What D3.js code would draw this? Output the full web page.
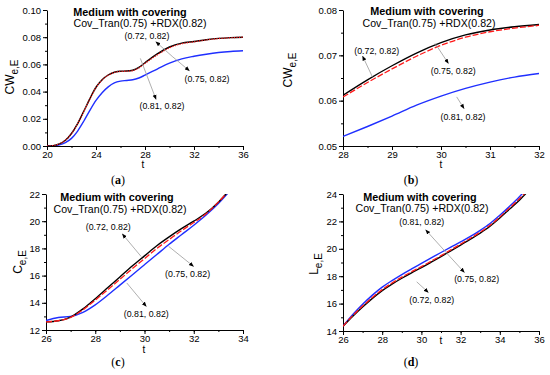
<!DOCTYPE html>
<html>
<head>
<meta charset="utf-8">
<script src="https://cdn.jsdelivr.net/npm/d3@7"></script>
<style>
body { margin: 0; background: #fff; }
text { font-family: "Liberation Sans", Arial, sans-serif; fill: #000; }
</style>
</head>
<body>
<div id="chart"></div>
<script>
// ---- data ----
// (a) CW vs t, 20..36
var tA = [20, 20.5, 21, 21.5, 22, 22.5, 23, 23.5, 24, 24.5, 25, 25.5, 26, 26.5, 27, 27.5, 28, 29, 30, 31, 32, 33, 34, 35, 36];
var blackA = [0, 0.0003, 0.0015, 0.0042, 0.0092, 0.0165, 0.0255, 0.0348, 0.0432, 0.0488, 0.0522, 0.0542, 0.0550, 0.0551, 0.0557, 0.0578, 0.0612, 0.0677, 0.0728, 0.0756, 0.0768, 0.0781, 0.0791, 0.0797, 0.0800];
var redA = [0, 0.0003, 0.0015, 0.0042, 0.0091, 0.0163, 0.0252, 0.0345, 0.0429, 0.0486, 0.0521, 0.0541, 0.0549, 0.0550, 0.0555, 0.0574, 0.0608, 0.0670, 0.0722, 0.0752, 0.0766, 0.0780, 0.0790, 0.0796, 0.0800];
var blueA = [0, 0.0001, 0.0008, 0.0025, 0.0056, 0.0110, 0.0182, 0.0262, 0.0335, 0.0392, 0.0435, 0.0464, 0.0477, 0.0482, 0.0487, 0.0500, 0.0521, 0.0566, 0.0610, 0.0641, 0.0660, 0.0675, 0.0687, 0.0695, 0.0700];

// (b) CW vs t, zoom 28..32
var tB = [28, 28.5, 29, 29.5, 30, 30.5, 31, 31.5, 32];
var blackB = [0.0612, 0.0646, 0.0677, 0.0705, 0.0728, 0.0745, 0.0756, 0.0763, 0.0768];
var redB = [0.0608, 0.0640, 0.0670, 0.0698, 0.0722, 0.0740, 0.0752, 0.0760, 0.0766];
var blueB = [0.0521, 0.0543, 0.0566, 0.0590, 0.0610, 0.0627, 0.0641, 0.0652, 0.0660];

// (c) C vs t
var tC = [26, 26.5, 27, 27.5, 28, 28.5, 29, 29.5, 30, 30.5, 31, 31.5, 32, 32.5, 33, 33.5];
var blackC = [12.6, 12.68, 12.95, 13.55, 14.3, 15.1, 15.9, 16.7, 17.45, 18.2, 18.85, 19.45, 20.0, 20.6, 21.4, 22.4];
var redC = [12.6, 12.68, 12.93, 13.48, 14.2, 14.95, 15.72, 16.5, 17.25, 18.0, 18.65, 19.3, 19.9, 20.55, 21.4, 22.4];
var blueC = [12.7, 12.92, 13.0, 13.3, 13.85, 14.55, 15.3, 16.05, 16.8, 17.55, 18.3, 19.0, 19.7, 20.45, 21.3, 22.3];

// (d) L vs t
var tD = [26, 26.5, 27, 27.5, 28, 28.5, 29, 29.5, 30, 30.5, 31, 31.5, 32, 32.5, 33, 33.5, 34, 34.5, 35, 35.5];
var blackD = [14.35, 15.08, 15.75, 16.38, 16.95, 17.42, 17.85, 18.25, 18.62, 19.02, 19.43, 19.85, 20.27, 20.7, 21.15, 21.65, 22.25, 22.9, 23.55, 24.3];
var redD = [14.35, 15.13, 15.82, 16.45, 17.02, 17.5, 17.93, 18.33, 18.7, 19.1, 19.5, 19.92, 20.34, 20.77, 21.22, 21.72, 22.32, 22.98, 23.65, 24.4];
var blueD = [14.35, 15.2, 15.95, 16.62, 17.2, 17.68, 18.12, 18.53, 18.93, 19.33, 19.73, 20.12, 20.5, 20.9, 21.35, 21.85, 22.45, 23.1, 23.8, 24.6];

var seriesNames = ["(0.72, 0.82)", "(0.75, 0.82)", "(0.81, 0.82)"];
var titleText = "Medium with covering";
var subtitleText = "Cov_Tran(0.75) +RDX(0.82)";

// annotations in data units: label position, arrow from -> to
var notesA = [
  {label: seriesNames[0], at: [28.16, 0.0809], from: [30.22, 0.0659], to: [28.89, 0.0766]},
  {label: seriesNames[1], at: [33.06, 0.0489], from: [30.22, 0.0659], to: [31.62, 0.0553]},
  {label: seriesNames[2], at: [29.39, 0.0293], from: [27.62, 0.0644], to: [28.90, 0.0343]}
];
var notesB = [
  {label: seriesNames[0], at: [28.69, 0.0710], from: [28.60, 0.06525], to: [28.40, 0.06983]},
  {label: seriesNames[1], at: [30.25, 0.06658], from: [29.88, 0.07264], to: [30.15, 0.06822]},
  {label: seriesNames[2], at: [30.45, 0.05641], from: [30.32, 0.06083], to: [30.47, 0.05827]}
];
var notesC = [
  {label: seriesNames[0], at: [28.53, 19.54], from: [29.86, 17.41], to: [29.10, 19.06]},
  {label: seriesNames[1], at: [31.75, 16.14], from: [30.98, 18.15], to: [31.99, 16.68]},
  {label: seriesNames[2], at: [30.07, 13.18], from: [29.28, 15.46], to: [30.07, 13.74]}
];
var notesD = [
  {label: seriesNames[2], at: [30.02, 21.99], from: [31.20, 19.83], to: [30.22, 21.38]},
  {label: seriesNames[1], at: [32.82, 17.79], from: [31.20, 19.83], to: [32.19, 18.28]},
  {label: seriesNames[0], at: [30.53, 16.25], from: [29.76, 17.59], to: [30.35, 16.82]}
];

var panels = [
  {id: "a", x: [20, 36], y: [0, 0.10], xTicks: d3.range(20, 36.1, 4), xMinor: d3.range(20, 36.1, 2),
   yTicks: d3.range(0, 0.1001, 0.02), yMinor: d3.range(0, 0.1001, 0.01), yFmt: d3.format(".2f"),
   t: tA, black: blackA, red: redA, blue: blueA, notes: notesA, redDash: "1.2,1.3",
   box: [47, 243, 10, 146], yName: "CW", title: [130, 15.5], sub: [140, 27], yLab: [14, 77], tLab: [143, 168], cap: [118, 184]},
  {id: "b", x: [28, 32], y: [0.05, 0.08], xTicks: d3.range(28, 32.1, 1), xMinor: d3.range(28, 32.1, 0.5),
   yTicks: d3.range(0.05, 0.0801, 0.01), yMinor: d3.range(0.05, 0.0801, 0.005), yFmt: d3.format(".2f"),
   t: tB, black: blackB, red: redB, blue: blueB, notes: notesB, redDash: "6,2",
   box: [343, 539, 10, 146], yName: "CW", title: [427, 15], sub: [429, 27], yLab: [292, 70], tLab: [441, 168], cap: [411, 184]},
  {id: "c", x: [26, 34], y: [12, 22], xTicks: d3.range(26, 34.1, 2), xMinor: d3.range(26, 34.1, 1),
   yTicks: d3.range(12, 22.1, 2), yMinor: d3.range(12, 22.1, 1), yFmt: d3.format("d"),
   t: tC, black: blackC, red: redC, blue: blueC, notes: notesC, redDash: "6,2",
   box: [46, 243, 194, 330], yName: "C", title: [117, 201], sub: [120, 213], yLab: [22, 262], tLab: [144, 353], cap: [118, 366]},
  {id: "d", x: [26, 36], y: [14, 24], xTicks: d3.range(26, 36.1, 2), xMinor: d3.range(26, 36.1, 1),
   yTicks: d3.range(14, 24.1, 2), yMinor: d3.range(14, 24.1, 1), yFmt: d3.format("d"),
   t: tD, black: blackD, red: redD, blue: blueD, notes: notesD, redDash: "6,2",
   box: [343, 539, 194, 331], yName: "L", title: [420, 200.5], sub: [422, 212], yLab: [318, 264], tLab: [441, 344], cap: [411, 366]}
];

var svg = d3.select("#chart").append("svg")
    .attr("width", 550)
    .attr("height", 375);

var defs = svg.append("defs");
defs.append("marker")
    .attr("id", "arrow")
    .attr("viewBox", "0 0 10 10")
    .attr("refX", 9).attr("refY", 5)
    .attr("markerWidth", 5).attr("markerHeight", 5)
    .attr("markerUnits", "userSpaceOnUse")
    .attr("orient", "auto")
    .append("path")
    .attr("d", "M0,1 L10,5 L0,9 Z")
    .attr("fill", "#000");

panels.forEach(drawPanel);

function drawPanel(p) {
    var x = d3.scaleLinear().domain(p.x).range([p.box[0], p.box[1]]);
    var y = d3.scaleLinear().domain(p.y).range([p.box[3], p.box[2]]);
    var g = svg.append("g").attr("class", "panel-" + p.id);

    defs.append("clipPath").attr("id", "clip-" + p.id)
        .append("rect")
        .attr("x", p.box[0]).attr("y", p.box[2])
        .attr("width", p.box[1] - p.box[0]).attr("height", p.box[3] - p.box[2]);

    // minor ticks
    g.append("g")
        .attr("transform", "translate(0," + p.box[3] + ")")
        .call(d3.axisBottom(x).tickValues(p.xMinor).tickSize(2).tickFormat(""))
        .call(function(s) { s.select(".domain").remove(); });
    g.append("g")
        .attr("transform", "translate(" + p.box[0] + ",0)")
        .call(d3.axisLeft(y).tickValues(p.yMinor).tickSize(2).tickFormat(""))
        .call(function(s) { s.select(".domain").remove(); });

    // major axes
    g.append("g")
        .attr("transform", "translate(0," + p.box[3] + ")")
        .call(d3.axisBottom(x).tickValues(p.xTicks).tickSize(4).tickSizeOuter(0).tickPadding(1).tickFormat(d3.format("d")));
    g.append("g")
        .attr("transform", "translate(" + p.box[0] + ",0)")
        .call(d3.axisLeft(y).tickValues(p.yTicks).tickSize(4).tickSizeOuter(0).tickPadding(2).tickFormat(p.yFmt));
    g.selectAll(".tick text").attr("font-size", 9.5).attr("font-family", "Liberation Sans, Arial, sans-serif");
    g.selectAll(".domain, .tick line").attr("stroke", "#000").attr("stroke-width", 1);

    // curves
    var line = d3.line()
        .x(function(d) { return x(d[0]); })
        .y(function(d) { return y(d[1]); })
        .curve(d3.curveMonotoneX);
    var curves = g.append("g").attr("clip-path", "url(#clip-" + p.id + ")");
    var series = [
        {vals: p.blue, color: "#1f2fff", dash: null, w: 1.4},
        {vals: p.black, color: "#000", dash: null, w: 1.4},
        {vals: p.red, color: "#ff1a1a", dash: p.redDash, w: 1.3}
    ];
    series.forEach(function(s) {
        curves.append("path")
            .datum(p.t.map(function(t, i) { return [t, s.vals[i]]; }))
            .attr("d", line)
            .attr("fill", "none")
            .attr("stroke", s.color)
            .attr("stroke-width", s.w)
            .attr("stroke-dasharray", s.dash);
    });

    // annotations
    p.notes.forEach(function(n) {
        g.append("line")
            .attr("x1", x(n.from[0])).attr("y1", y(n.from[1]))
            .attr("x2", x(n.to[0])).attr("y2", y(n.to[1]))
            .attr("stroke", "#9a9a9a").attr("stroke-width", 0.8)
            .attr("marker-end", "url(#arrow)");
        g.append("text")
            .attr("x", x(n.at[0])).attr("y", y(n.at[1]) + 3)
            .attr("text-anchor", "middle")
            .attr("font-size", 8.8)
            .text(n.label);
    });

    // titles
    g.append("text").attr("x", p.title[0]).attr("y", p.title[1])
        .attr("text-anchor", "middle").attr("font-size", 10.8).attr("font-weight", "bold")
        .text(titleText);
    g.append("text").attr("x", p.sub[0]).attr("y", p.sub[1])
        .attr("text-anchor", "middle").attr("font-size", 10.6)
        .text(subtitleText);

    // axis titles
    var yl = g.append("text")
        .attr("transform", "translate(" + p.yLab[0] + "," + p.yLab[1] + ") rotate(-90)")
        .attr("text-anchor", "middle")
        .attr("font-size", 12);
    yl.append("tspan").text(p.yName);
    yl.append("tspan").attr("font-size", 10).attr("dy", 4).text("e,E");

    g.append("text").attr("x", p.tLab[0]).attr("y", p.tLab[1])
        .attr("text-anchor", "middle").attr("font-size", 10).text("t");

    var cap = g.append("text").attr("x", p.cap[0]).attr("y", p.cap[1])
        .attr("text-anchor", "middle").attr("font-size", 12)
        .attr("font-family", "Liberation Serif, Times New Roman, serif");
    cap.append("tspan").attr("font-family", "Liberation Serif, serif").text("(");
    cap.append("tspan").attr("font-family", "Liberation Serif, serif").attr("font-weight", "bold").text(p.id);
    cap.append("tspan").attr("font-family", "Liberation Serif, serif").text(")");
}
</script>
</body>
</html>
